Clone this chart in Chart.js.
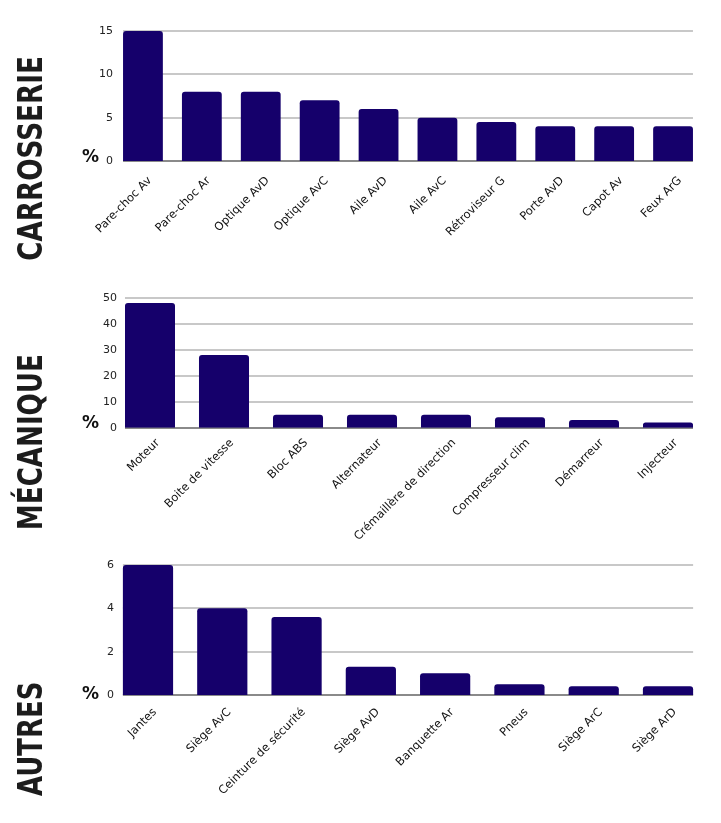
<!DOCTYPE html>
<html><head><meta charset="utf-8">
<script src="https://cdn.jsdelivr.net/npm/chart.js@4.4.1/dist/chart.umd.min.js"></script>
<style>
html,body{margin:0;padding:0;background:#fff;}
body{width:721px;height:823px;position:relative;overflow:hidden;}
.wrap{position:absolute;left:0;width:721px;}
canvas{display:block;}
</style></head><body>
<div class="wrap" style="top:0;height:272px"><canvas id="c1"></canvas></div>
<div class="wrap" style="top:272px;height:285px"><canvas id="c2"></canvas></div>
<div class="wrap" style="top:540px;height:283px"><canvas id="c3"></canvas></div>
<script>
// ---- data ----
const carrosserieLabels = ['Pare-choc Av','Pare-choc Ar','Optique AvD','Optique AvC','Aile AvD','Aile AvC','Rétroviseur G','Porte AvD','Capot Av','Feux ArG'];
const carrosserieValues = [15, 8, 8, 7, 6, 5, 4.5, 4, 4, 4];
const carrosserieTicks = [0, 5, 10, 15];

const mecaniqueLabels = ['Moteur','Boite de vitesse','Bloc ABS','Alternateur','Crémaillère de direction','Compresseur clim','Démarreur','Injecteur'];
const mecaniqueValues = [48, 28, 5, 5, 5, 4, 3, 2];
const mecaniqueTicks = [0, 10, 20, 30, 40, 50];

const autresLabels = ['Jantes','Siège AvC','Ceinture de sécurité','Siège AvD','Banquette Ar','Pneus','Siège ArC','Siège ArD'];
const autresValues = [6, 4, 3.6, 1.3, 1, 0.5, 0.4, 0.4];
const autresTicks = [0, 2, 4, 6];

const titles = ['CARROSSERIE', 'MÉCANIQUE', 'AUTRES'];
const unitLabel = '%';

// ---- styling ----
const BAR = '#15006b';
const TICKFONT = '"DejaVu Sans", sans-serif';

const deco = {
  id: 'deco',
  beforeDatasetsDraw(chart, args, o) {
    const {ctx} = chart;
    const ys = chart.scales.y;
    const els = chart.getDatasetMeta(0).data;
    const f = els[0], l = els[els.length - 1];
    const x0 = f.x - f.width / 2, x1 = l.x + l.width / 2;
    ctx.save();
    ys.ticks.forEach(t => {
      const py = Math.round(ys.getPixelForValue(t.value));
      ctx.beginPath();
      ctx.strokeStyle = t.value === 0 ? '#8a8a8a' : '#c8c8c8';
      ctx.lineWidth = 2;
      ctx.moveTo(x0, py); ctx.lineTo(x1, py); ctx.stroke();
      ctx.font = '11px ' + TICKFONT;
      ctx.fillStyle = '#222';
      ctx.textAlign = 'right';
      ctx.textBaseline = 'middle';
      ctx.fillText(String(t.value), o.lx, py);
    });
    ctx.restore();
  },
  afterDraw(chart, args, o) {
    const {ctx} = chart;
    ctx.save();
    ctx.font = 'bold 40px "Liberation Sans Narrow", "DejaVu Sans Condensed", "DejaVu Sans", sans-serif';
    const m = ctx.measureText(o.title);
    const w = m.actualBoundingBoxLeft + m.actualBoundingBoxRight;
    const capH = ctx.measureText('H').actualBoundingBoxAscent;
    ctx.translate(o.tx, o.ty);
    ctx.rotate(-Math.PI / 2);
    ctx.scale(o.tlen / w, o.tthick / capH);
    ctx.fillStyle = '#1c1c1c';
    ctx.textBaseline = 'alphabetic';
    ctx.textAlign = 'left';
    ctx.fillText(o.title, m.actualBoundingBoxLeft, 0);
    ctx.restore();
    ctx.save();
    ctx.font = 'bold 17px "DejaVu Sans", sans-serif';
    ctx.fillStyle = '#111';
    ctx.textAlign = 'right';
    ctx.textBaseline = 'alphabetic';
    ctx.fillText(unitLabel, o.ux, o.uy);
    ctx.restore();
  }
};

function makeChart(id, H, labels, values, ticks, area, xPad, xOff, opts) {
  return new Chart(document.getElementById(id), {
    type: 'bar',
    plugins: [deco],
    data: {
      labels: labels,
      datasets: [{
        data: values,
        backgroundColor: BAR,
        borderRadius: {topLeft: 3, topRight: 3},
        borderSkipped: 'start',
        categoryPercentage: 1,
        barPercentage: 0.676
      }]
    },
    options: {
      responsive: true,
      maintainAspectRatio: false,
      animation: false,
      layout: {padding: {left: 0, right: 721 - area.right, top: area.top, bottom: 0}},
      plugins: {legend: {display: false}, tooltip: {enabled: false}, deco: opts},
      scales: {
        x: {
          grid: {display: false, drawTicks: false},
          border: {display: false},
          afterFit: s => { s.height = H - area.bottom; },
          ticks: {
            autoSkip: false, minRotation: 45, maxRotation: 45,
            padding: xPad, labelOffset: xOff,
            color: '#111', font: {family: TICKFONT, size: 11.5}
          }
        },
        y: {
          min: ticks[0], max: ticks[ticks.length - 1],
          grid: {display: false, drawTicks: false},
          border: {display: false},
          afterFit: s => { s.width = area.left; },
          ticks: {display: false, stepSize: ticks[1] - ticks[0]}
        }
      }
    }
  });
}

makeChart('c1', 272, carrosserieLabels, carrosserieValues, carrosserieTicks,
  {left: 113.5, right: 702.5, top: 31, bottom: 161}, 13, 7,
  {title: titles[0], tx: 42, ty: 260, tlen: 202, tthick: 25, ux: 99, uy: 162, lx: 113});
makeChart('c2', 285, mecaniqueLabels, mecaniqueValues, mecaniqueTicks,
  {left: 113, right: 705, top: 25.7, bottom: 155.7}, 8.5, 8,
  {title: titles[1], tx: 42, ty: 256, tlen: 172, tthick: 25, ux: 99, uy: 156, lx: 117});
makeChart('c3', 283, autresLabels, autresValues, autresTicks,
  {left: 110.85, right: 705.15, top: 25, bottom: 155}, 10.5, 7,
  {title: titles[2], tx: 42, ty: 256, tlen: 113, tthick: 25, ux: 99, uy: 159, lx: 114});
</script>
</body></html>
